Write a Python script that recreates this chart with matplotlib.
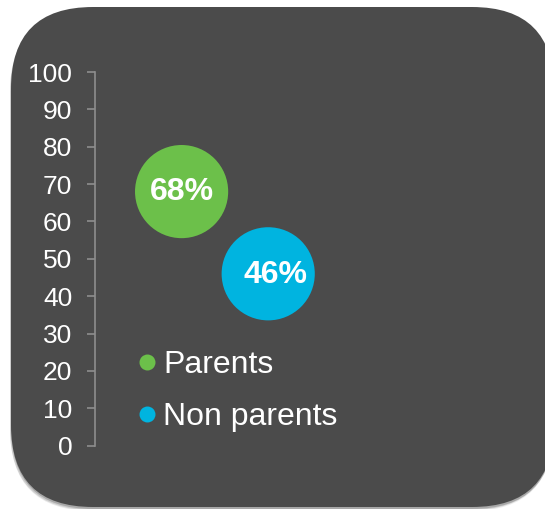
import matplotlib
matplotlib.use("Agg")
import matplotlib.pyplot as plt
from matplotlib.patches import FancyBboxPatch
from matplotlib.lines import Line2D

# ── data ──
groups = ["Parents", "Non parents"]
x_pos = [1, 2]
values = [68, 46]
labels = ["68%", "46%"]
colors = ["#6cc04a", "#00b4e0"]
y_ticks = list(range(0, 101, 10))

plt.rcParams["font.family"] = ["Liberation Sans", "DejaVu Sans"]

W, H = 545, 509
fig = plt.figure(figsize=(W / 100, H / 100), dpi=100)
fig.patch.set_facecolor("white")

# background panel in pixel coordinates (runs past the right edge)
R = 82
x0, y0, x1, y1 = 11, 7, 554, 507
bg = fig.add_axes([0, 0, 1, 1], zorder=0)
bg.set_xlim(0, W)
bg.set_ylim(H, 0)
bg.axis("off")
style = f"round,pad=0,rounding_size={R}"
for dx, dy, a in [(-1, 4, 0.08), (-1, 3, 0.12), (0, 2, 0.18)]:
    bg.add_patch(FancyBboxPatch((x0 + dx, y0 + dy), x1 - x0, y1 - y0,
                                boxstyle=style, fc="#000000", ec="none", alpha=a))
bg.add_patch(FancyBboxPatch((x0, y0), x1 - x0, y1 - y0,
                            boxstyle=style, fc="#4b4b4b", ec="none"))

# main chart
ax = fig.add_axes([95 / W, 63.3 / H, 433 / W, 373.7 / H], zorder=1)
ax.patch.set_alpha(0)
ax.set_xlim(0, 5)
ax.set_ylim(0, 100)

ax.scatter(x_pos, values, s=4500, c=colors, edgecolors="none", zorder=3)
offsets = [(0, 0), (5, -1)]
for x, v, lab, off in zip(x_pos, values, labels, offsets):
    ax.annotate(lab, (x, v), xytext=off, textcoords="offset points",
                ha="center", va="center", color="white",
                fontsize=23, fontweight="bold", zorder=4)

ax.set_yticks(y_ticks)
ax.set_xticks([])
for s in ["top", "right", "bottom"]:
    ax.spines[s].set_visible(False)
ax.spines["left"].set_color("#8e8e8e")
ax.spines["left"].set_linewidth(1.2)
ax.tick_params(axis="y", colors="#8e8e8e", labelcolor="white",
               labelsize=19, length=5.8, width=1.2, pad=10.5)

handles = [Line2D([], [], ls="none", marker="o", markersize=11.5,
                  markerfacecolor=c, markeredgecolor="none") for c in colors]
ax.legend(handles, groups, loc="center left", bbox_to_anchor=(135.7, 391),
          bbox_transform=bg.transData, frameon=False, fontsize=23,
          handlelength=0.7, handletextpad=0.17, labelspacing=0.67,
          borderpad=0, borderaxespad=0, labelcolor="white")

fig.savefig("out.png", dpi=100, facecolor="white")
